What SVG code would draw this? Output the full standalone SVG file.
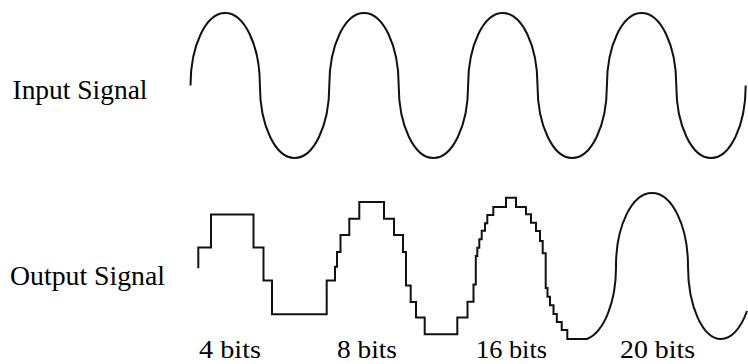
<svg xmlns="http://www.w3.org/2000/svg" width="748" height="364" viewBox="0 0 748 364">
  <style>
    .wave { fill: none; stroke: #111; stroke-width: 2; stroke-linejoin: miter; }
    .lbl { font-family: "Liberation Serif", "Times New Roman", serif; font-size: 27px; fill: #000; }
    .bits { font-size: 26px; }
  </style>
  <rect width="748" height="364" fill="#fff"/>
  <g id="input-signal">
    <path class="wave" d="M190.5,85.5 A34.7,72.5 0 0 1 259.9,85.5 A34.7,72.5 0 0 0 329.3,85.5 A34.7,72.5 0 0 1 398.7,85.5 A34.7,72.5 0 0 0 468.1,85.5 A34.7,72.5 0 0 1 537.5,85.5 A34.7,72.5 0 0 0 606.9,85.5 A34.7,72.5 0 0 1 676.3,85.5 A34.7,72.5 0 0 0 745.7,85.5"/>
    <text class="lbl" x="12.5" y="99" textLength="135" lengthAdjust="spacingAndGlyphs">Input Signal</text>
  </g>
  <g id="output-signal">
    <path class="wave" d="M198.3,268.3 V247.6 H211 V214.5 H253.5 V247.6 H263.5 V280.6 H272 V314.2 H326.7 V280.6 H335 V266.7 H337 V252 H340.5 V235 H349.3 V218.7 H359.3 V202 H384 V218.7 H394 V235 H403 V252 H406 V285.5 H410.7 V302 H416 V317.5 H424.7 V334.3 H457.3 V317.5 H467.5 V301.7 H473.5 V284.5 H475.8 V256 H477.3 V247.7 H479.3 V239.3 H481.7 V230.7 H485 V223.3 H487.3 V215 H493.3 V207 H506 V197.7 H516 V207 H526 V214.3 H531 V222.7 H536 V231 H540 V241 H542.7 V253.3 H545.7 V288 H547.5 V296.7 H550 V305.3 H553.5 V314 H556.8 V322 H561.7 V330 H567.3 V339 H587 A36,73 0 0 0 616,266 A36,73 0 0 1 688,266 A33,73 0 0 0 721,339 A33,73 0 0 0 747,311"/>
    <text class="lbl" x="10" y="285" textLength="155" lengthAdjust="spacingAndGlyphs">Output Signal</text>
  </g>
  <g id="bit-labels">
    <text class="lbl bits" x="199" y="358" textLength="62" lengthAdjust="spacingAndGlyphs">4 bits</text>
    <text class="lbl bits" x="337" y="358" textLength="60" lengthAdjust="spacingAndGlyphs">8 bits</text>
    <text class="lbl bits" x="476" y="358" textLength="71" lengthAdjust="spacingAndGlyphs">16 bits</text>
    <text class="lbl bits" x="620" y="358" textLength="75" lengthAdjust="spacingAndGlyphs">20 bits</text>
  </g>
</svg>
